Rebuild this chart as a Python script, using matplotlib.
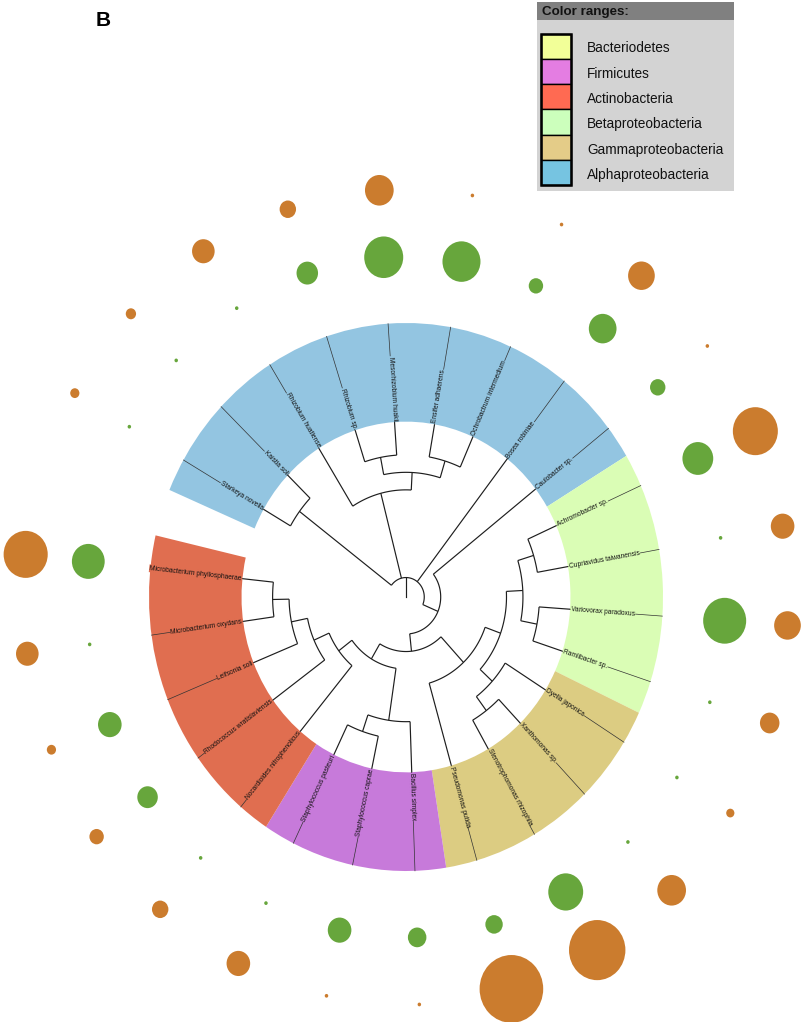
import numpy as np
import matplotlib
matplotlib.use('Agg')
import matplotlib.pyplot as plt
from matplotlib.patches import Circle, Rectangle

plt.rcParams['font.family'] = ['Liberation Sans', 'DejaVu Sans']

# ---------------- data ----------------
leaf_names = [
    'Starkeya novella', 'Kaistia soli', 'Rhizobium huatlense', 'Rhizobium sp.',
    'Mesorhizobium huakii', 'Ensifer adhaerens', 'Ochrobactrum intermedium',
    'Bosea robiniae', 'Caulobacter sp.', 'Achromobacter sp.',
    'Cupriavidus taiwanensis', 'Variovorax paradoxus', 'Ramlibacter sp.',
    'Dyella japonica', 'Xanthomonas sp.', 'Stenotrophomonas rhizophila',
    'Pseudomonas putida', 'Bacillus simplex', 'Staphylococcus caprae',
    'Staphylococcus pasteuri', 'Nocardioides nitrophenolicus',
    'Rhodococcus wratislaviensis', 'Leifsonia soli', 'Microbacterium oxydans',
    'Microbacterium phyllosphaerae']

leaf_group = (['Alphaproteobacteria'] * 9 + ['Betaproteobacteria'] * 4 +
              ['Gammaproteobacteria'] * 4 + ['Firmicutes'] * 3 +
              ['Actinobacteria'] * 5)

tree_newick = ("((Starkeya novella,Kaistia soli),"
               "(Rhizobium huatlense,((Rhizobium sp.,Mesorhizobium huakii),"
               "(Ensifer adhaerens,Ochrobactrum intermedium))),"
               "Bosea robiniae,"
               "(Caulobacter sp.,((((((Microbacterium phyllosphaerae,Microbacterium oxydans),"
               "Leifsonia soli),Rhodococcus wratislaviensis),Nocardioides nitrophenolicus),"
               "((Staphylococcus pasteuri,Staphylococcus caprae),Bacillus simplex)),"
               "((((Achromobacter sp.,Cupriavidus taiwanensis),"
               "(Variovorax paradoxus,Ramlibacter sp.)),"
               "(Dyella japonica,(Xanthomonas sp.,Stenotrophomonas rhizophila))),"
               "Pseudomonas putida))));")

# bubble values (diameter-like sizes) per leaf, in leaf order
green_values = [3.5, 3.5, 3.5, 21.5, 39, 38, 14.4, 27.7, 15.4, 30.8, 3.5, 43,
                3.5, 3.5, 3.5, 34.9, 17.4, 18.5, 23.6, 3.5, 3.5, 20.5, 23.6,
                3.5, 32.8]
orange_values = [9.2, 10.3, 22.6, 16.4, 28.7, 3.5, 3.5, 26.7, 3.5, 45, 23.6,
                 26.7, 19.5, 8.2, 28.7, 56.4, 63.6, 3.5, 3.5, 23.6, 16.4, 14.4,
                 9.2, 22.6, 44.1]

legend_labels = ['Bacteriodetes', 'Firmicutes', 'Actinobacteria',
                 'Betaproteobacteria', 'Gammaproteobacteria',
                 'Alphaproteobacteria']
legend_colors = ['#f2ff98', '#e47de2', '#ff6a52', '#ccffbc', '#e4cc88',
                 '#76c4e1']
band_colors = {'Alphaproteobacteria': '#93c5e1',
               'Betaproteobacteria': '#dafdb5',
               'Gammaproteobacteria': '#dccc82',
               'Firmicutes': '#c77ada',
               'Actinobacteria': '#e06e50'}

# ---------------- layout / style ----------------
W, H, DPI = 802, 1022, 100
CX, CY = 406, 597          # centre of the tree in pixels
UX, UY = 257, 274          # pixels per radial unit (image is slightly stretched)
RMAX = 1.7
LEAF0, DTHETA = 150.0, 14.0
R_IN, R_OUT = 0.64, 1.0
R_ROOT, STEP = 0.071, 0.064
R_GREEN, R_ORANGE = 1.243, 1.488
ROOT_STUB_ANGLE = 90.0
LINE_C = '#1e1e1e'
GREEN_C, ORANGE_C = '#67a63c', '#cb7c2e'


def parse_newick(s):
    pos = 0

    def node():
        nonlocal pos
        if s[pos] == '(':
            pos += 1
            kids = [node()]
            while s[pos] == ',':
                pos += 1
                kids.append(node())
            pos += 1
            return kids
        start = pos
        while s[pos] not in ',();':
            pos += 1
        return s[start:pos].strip()
    return node()


tree = parse_newick(tree_newick)
leaf_angle = {n: LEAF0 - DTHETA * i for i, n in enumerate(leaf_names)}


def height(t):
    return 0 if isinstance(t, str) else 1 + max(height(c) for c in t)


def theta(t):
    if isinstance(t, str):
        return leaf_angle[t]
    a = [theta(c) for c in t]
    return 0.5 * (min(a) + max(a))


H_ROOT = height(tree)


def radius(t):
    if isinstance(t, str):
        return R_IN
    return R_ROOT + (H_ROOT - height(t)) * STEP


fig = plt.figure(figsize=(W / DPI, H / DPI), dpi=DPI)
pos = [(CX - RMAX * UX) / W, (H - CY - RMAX * UY) / H,
       2 * RMAX * UX / W, 2 * RMAX * UY / H]
ax = fig.add_axes(pos, projection='polar')
ax.set_aspect('auto')
ax.set_ylim(0, RMAX)
ax.set_axis_off()

# colour ranges
groups = []
for i, g in enumerate(leaf_group):
    if not groups or groups[-1][0] != g:
        groups.append([g, i, i])
    else:
        groups[-1][2] = i
for g, i0, i1 in groups:
    a0 = LEAF0 - DTHETA * i0 + DTHETA / 2
    a1 = LEAF0 - DTHETA * i1 - DTHETA / 2
    ax.bar(np.radians((a0 + a1) / 2), R_OUT - R_IN, width=np.radians(a0 - a1),
           bottom=R_IN, color=band_colors[g], edgecolor='none', linewidth=0,
           zorder=1)


# tree
def draw(t):
    r = radius(t)
    ths = [theta(c) for c in t]
    arc = np.radians(np.linspace(min(ths), max(ths), 120))
    ax.plot(arc, np.full_like(arc, r), color=LINE_C, lw=0.85, zorder=3,
            solid_capstyle='butt')
    for c, th in zip(t, ths):
        ax.plot([np.radians(th)] * 2, [r, radius(c)], color=LINE_C, lw=0.85,
                zorder=3, solid_capstyle='butt')
        if not isinstance(c, str):
            draw(c)


draw(tree)
ax.plot([np.radians(ROOT_STUB_ANGLE)] * 2, [0, R_ROOT], color=LINE_C, lw=0.85,
        zorder=3)

# labels
for name, g in zip(leaf_names, leaf_group):
    th = leaf_angle[name]
    t = np.radians(th)
    ax.plot([t, t], [R_IN, R_OUT], color='#333333', lw=0.5, zorder=2)
    phi = np.degrees(np.arctan2(UY * np.sin(t), UX * np.cos(t)))
    if np.cos(t) >= 0:
        rot, ha = phi, 'left'
    else:
        rot, ha = phi - 180, 'right'
    ax.text(t, R_IN + 0.004, name, rotation=rot, ha=ha, va='center',
            rotation_mode='anchor', fontsize=4.8, color='#111111', zorder=5,
            bbox=dict(facecolor=band_colors[g], edgecolor='none', pad=0.3))

# bubbles (cartesian overlay sharing the same stretched frame)
ax2 = fig.add_axes(pos)
ax2.set_xlim(-RMAX, RMAX)
ax2.set_ylim(-RMAX, RMAX)
ax2.set_aspect('auto')
ax2.set_axis_off()
ax2.patch.set_visible(False)
for name, gv, ov in zip(leaf_names, green_values, orange_values):
    t = np.radians(leaf_angle[name])
    ax2.add_patch(Circle((R_GREEN * np.cos(t), R_GREEN * np.sin(t)),
                         gv / 2 / UX, facecolor=GREEN_C, edgecolor='none'))
    ax2.add_patch(Circle((R_ORANGE * np.cos(t), R_ORANGE * np.sin(t)),
                         ov / 2 / UX, facecolor=ORANGE_C, edgecolor='none'))

# legend box
LX0, LY0, LW, LH = 537, 2, 197, 189
lax = fig.add_axes([LX0 / W, 1 - (LY0 + LH) / H, LW / W, LH / H])
lax.set_xlim(0, LW)
lax.set_ylim(LH, 0)
lax.set_axis_off()
lax.add_patch(Rectangle((0, 0), LW, LH, facecolor='#d3d3d3', edgecolor='none'))
lax.add_patch(Rectangle((0, 0), LW, 18.3, facecolor='#808080', edgecolor='none'))
lax.text(5.5, 10, 'Color ranges:', fontsize=9.6, fontweight='bold',
         va='center', ha='left', color='#111111')
SW_X, SW_Y, SW_W, SW_H = 4, 31.6, 29.7, 25.3
for k, (lab, col) in enumerate(zip(legend_labels, legend_colors)):
    lax.add_patch(Rectangle((SW_X, SW_Y + k * SW_H), SW_W, SW_H,
                            facecolor=col, edgecolor='black', lw=1.0))
    lax.text(50, SW_Y + k * SW_H + 14.8, lab, fontsize=9.8, va='center',
             ha='left', color='#111111')
lax.add_patch(Rectangle((SW_X, SW_Y), SW_W, SW_H * len(legend_labels),
                        facecolor='none', edgecolor='black', lw=1.8))

fig.text(103 / W, 1 - 21 / H, 'B', fontsize=15, fontweight='bold',
         ha='center', va='center')

fig.savefig('out.png', dpi=DPI)
